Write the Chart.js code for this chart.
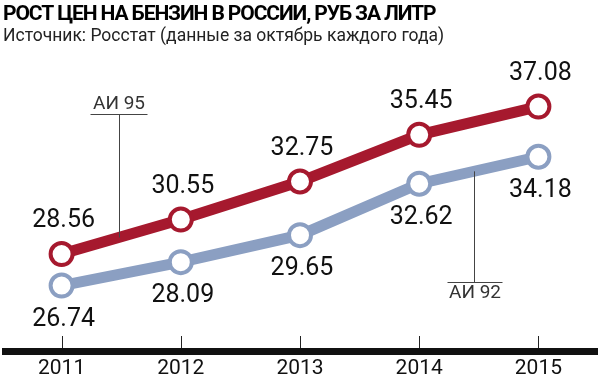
<!DOCTYPE html>
<html>
<head>
<meta charset="utf-8">
<script src="https://cdn.jsdelivr.net/npm/chart.js@4/dist/chart.umd.min.js"></script>
<style>
  body { margin: 0; background: #fff; }
  #wrap { width: 600px; height: 377px; }
</style>
</head>
<body>
<div id="wrap"><canvas id="chart"></canvas></div>
<script>
const years = ['2011', '2012', '2013', '2014', '2015'];
const ai95 = [28.56, 30.55, 32.75, 35.45, 37.08];
const ai92 = [26.74, 28.09, 29.65, 32.62, 34.18];
const seriesNames = ['АИ 95', 'АИ 92'];
const titleText = 'РОСТ ЦЕН НА БЕНЗИН В РОССИИ, РУБ ЗА ЛИТР';
const subtitleText = 'Источник: Росстат (данные за октябрь каждого года)';

const RED = '#a6192e';
const BLUE = '#8b9fc2';
const NUM_FONT = 'Roboto, "DejaVu Sans", sans-serif';

// heading: condensed bold title + source line
const heading = {
  id: 'heading',
  afterDraw(chart) {
    const ctx = chart.ctx;
    ctx.save();
    ctx.textAlign = 'left';
    ctx.textBaseline = 'alphabetic';
    ctx.fillStyle = '#000';
    ctx.font = 'bold 21px ' + NUM_FONT;
    if ('letterSpacing' in ctx) ctx.letterSpacing = '-1.1px';
    ctx.fillText(titleText, 3, 20);
    if ('letterSpacing' in ctx) ctx.letterSpacing = '0px';
    ctx.fillStyle = '#222';
    ctx.font = '17.5px ' + NUM_FONT;
    ctx.fillText(subtitleText, 3, 41);
    ctx.restore();
  }
};

// value labels over / under each point
const valueLabels = {
  id: 'valueLabels',
  afterDatasetsDraw(chart) {
    const ctx = chart.ctx;
    ctx.save();
    ctx.font = '25px ' + NUM_FONT;
    ctx.fillStyle = '#111';
    ctx.textAlign = 'center';
    ctx.textBaseline = 'middle';
    chart.data.datasets.forEach((ds, i) => {
      const meta = chart.getDatasetMeta(i);
      const off = i === 0 ? -33 : 34;
      meta.data.forEach((pt, j) => {
        ctx.fillText(ds.data[j].toFixed(2), pt.x + 2, pt.y + off);
      });
    });
    ctx.restore();
  }
};

// thick base line with small ticks going up
const baseAxis = {
  id: 'baseAxis',
  afterDraw(chart) {
    const ctx = chart.ctx;
    const x = chart.scales.x;
    const b = chart.chartArea.bottom;
    ctx.save();
    ctx.fillStyle = '#111';
    ctx.fillRect(2, b - 4, chart.width - 4, 7);
    ctx.strokeStyle = '#222';
    ctx.lineWidth = 1;
    x.ticks.forEach((t, i) => {
      const px = Math.round(x.getPixelForTick(i)) + 0.5;
      ctx.beginPath();
      ctx.moveTo(px, b - 16);
      ctx.lineTo(px, b - 4);
      ctx.stroke();
    });
    ctx.restore();
  }
};

// series name callouts with leader lines
const callouts = {
  id: 'callouts',
  afterDraw(chart, args, opts) {
    const ctx = chart.ctx;
    ctx.save();
    ctx.font = '19px ' + NUM_FONT;
    ctx.fillStyle = '#333';
    ctx.strokeStyle = '#444';
    ctx.lineWidth = 1;
    ctx.textAlign = 'center';
    opts.items.forEach(it => {
      const pts = chart.getDatasetMeta(it.dataset).data;
      const k = Math.floor(it.at);
      const t = it.at - k;
      const x = Math.round(chart.scales.x.getPixelForValue(it.at)) + 0.5;
      const yLine = pts[k].y + t * (pts[k + 1].y - pts[k].y);
      const yEnd = Math.round(yLine + it.rise) + 0.5;
      ctx.beginPath();
      ctx.moveTo(x, yLine);
      ctx.lineTo(x, yEnd);
      ctx.moveTo(x - it.left, yEnd);
      ctx.lineTo(x + it.right, yEnd);
      ctx.stroke();
      const cx = x - it.left + (it.left + it.right) / 2;
      if (it.rise < 0) {
        ctx.textBaseline = 'bottom';
        ctx.fillText(seriesNames[it.dataset], cx, yEnd - 1);
      } else {
        ctx.textBaseline = 'top';
        ctx.fillText(seriesNames[it.dataset], cx, yEnd + 1);
      }
    });
    ctx.restore();
  }
};

new Chart(document.getElementById('chart'), {
  type: 'line',
  data: {
    labels: years,
    datasets: [
      {
        label: seriesNames[0],
        data: ai95,
        borderColor: RED,
        borderWidth: 11,
        pointRadius: 11,
        pointBorderWidth: 4,
        pointBackgroundColor: '#fff',
        pointBorderColor: RED,
        tension: 0,
      },
      {
        label: seriesNames[1],
        data: ai92,
        borderColor: BLUE,
        borderWidth: 11,
        pointRadius: 11,
        pointBorderWidth: 4,
        pointBackgroundColor: '#fff',
        pointBorderColor: BLUE,
        tension: 0,
      },
    ],
  },
  options: {
    responsive: true,
    maintainAspectRatio: false,
    animation: false,
    layout: { autoPadding: false, padding: { left: 2, right: 2, top: 60, bottom: 0 } },
    plugins: {
      legend: { display: false },
      tooltip: { enabled: false },
      title: { display: false },
      callouts: {
        items: [
          { dataset: 0, at: 0.48, rise: -123, left: 29, right: 28 },
          { dataset: 1, at: 3.46, rise: 111, left: 27, right: 28 },
        ],
      },
    },
    scales: {
      x: {
        offset: true,
        grid: { display: false, drawTicks: false },
        border: { display: false },
        afterFit(scale) { scale.height = 25; },
        ticks: {
          color: '#111',
          padding: 6,
          font: { family: NUM_FONT, size: 21, lineHeight: 1 },
        },
      },
      y: {
        display: false,
        min: 22.9,
        max: 39.77,
      },
    },
  },
  plugins: [heading, valueLabels, baseAxis, callouts],
});
</script>
</body>
</html>
